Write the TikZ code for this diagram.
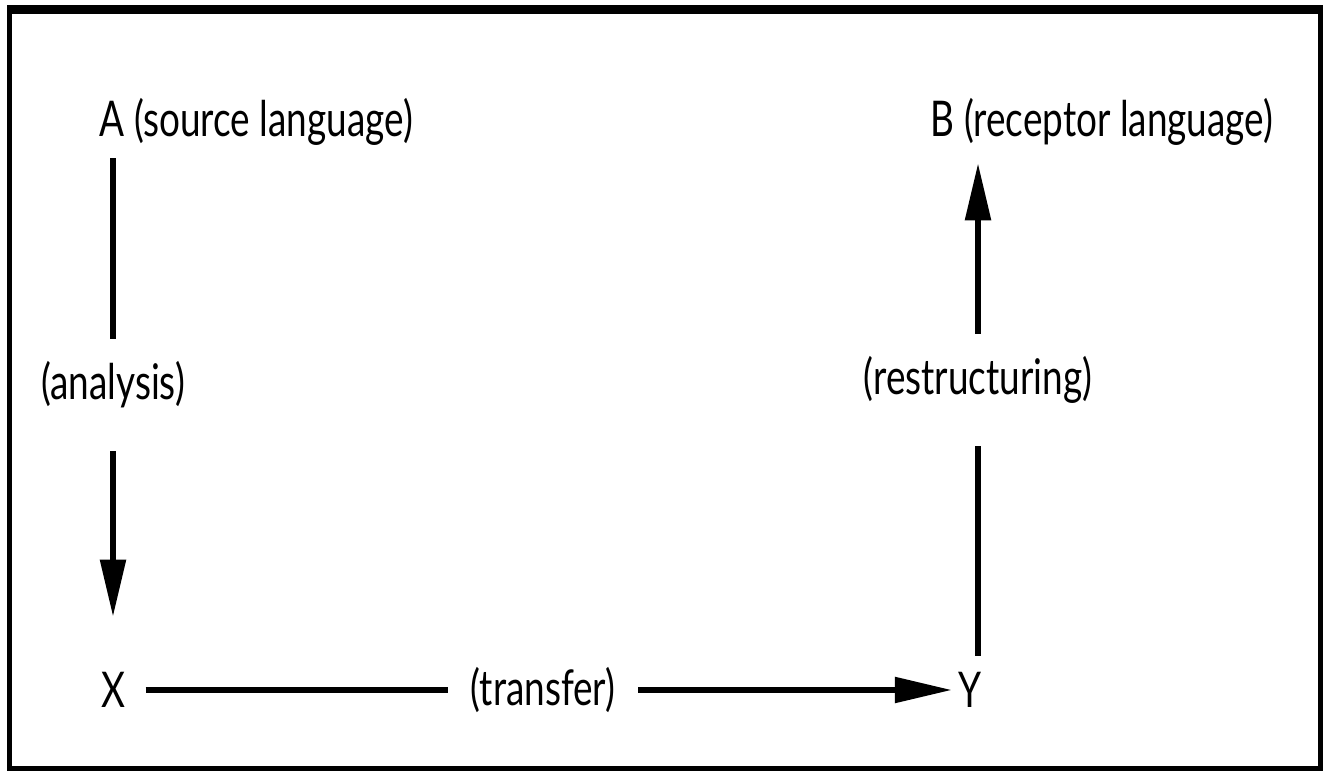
\documentclass[tikz,border=0pt]{standalone}
\usepackage{fontspec}
\setmainfont[FakeStretch=0.75]{Lato}
\usetikzlibrary{arrows.meta}

\tikzset{
  lang/.style={inner sep=0pt, font=\fontsize{14}{16}\selectfont},
  step label/.style={lang, inner sep=0.22cm},
  link/.style={line width=0.055cm},
  flow/.style={link, -{Triangle[length=0.57cm,width=0.25cm]}}
}

\begin{document}
\begin{tikzpicture}[x=0.01cm,y=-0.01cm]
\useasboundingbox (0,0) rectangle (1325,771);
% frame
\draw[line width=0.05cm] (9.5,9.5) rectangle (1320.5,768.5);
\draw[line width=0.09cm] (7,9.5) -- (1323,9.5);

% the four stages
\node[lang, anchor=west] (A) at (99,122) {A (source language)};
\node[lang, anchor=west] (B) at (930,122) {B (receptor language)};
\node[lang] (X) at (113,690) {X};
\node[lang] (Y) at (970,690) {Y};

% the three steps
\node[step label] (analysis) at (113,385) {(analysis)};
\node[step label] (transfer) at (543,690) {(transfer)};
\node[step label] (restr) at (978,380) {(restructuring)};

\draw[link] (A.south -| analysis) ++(0,12) -- (analysis);
\draw[flow, shorten <=0.2cm] (analysis) -- ([yshift=0.55cm]X.north);
\draw[link] ([xshift=0.2cm]X.east) -- (transfer);
\draw[flow] (transfer) -- ([xshift=-0.06cm]Y.west);
\draw[link, shorten >=0.2cm] ([yshift=0.16cm]restr |- Y.north) -- (restr);
\draw[flow] (restr) -- ([yshift=-0.17cm]restr |- B.south);
\end{tikzpicture}
\end{document}
